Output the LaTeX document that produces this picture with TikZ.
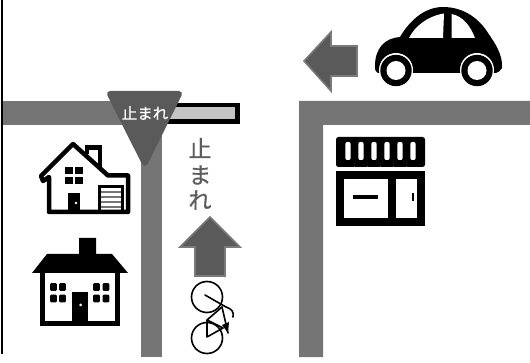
\documentclass[tikz,border=0pt]{standalone}
\usepackage{fontspec}
\newfontfamily\jp{Noto Sans CJK JP}
\newfontfamily\jpb{Noto Sans CJK JP}[FakeBold=0.6]
\definecolor{road}{HTML}{757575}
\definecolor{sign}{HTML}{5A5A5A}
\definecolor{edge}{HTML}{7A7A7A}
\definecolor{bar}{HTML}{C4C4C4}
\definecolor{txt}{HTML}{5C5C5C}
\tikzset{
  roadshape/.style={fill=road,draw=none},
  bigarrow/.style={fill=sign,draw=edge,line width=1.6pt,line join=miter},
  ink/.style={draw=black,line width=4.5pt,line join=round},
  solid ink/.style={fill=black,draw=none},
  thin ink/.style={draw=black,line width=1.6pt,line cap=round,line join=round},
  paper/.style={fill=white,draw=none},
  vtext/.style={text=txt,font=\jpb\fontsize{23}{23}\selectfont,inner sep=0pt},
}
\begin{document}
\begin{tikzpicture}[x=1pt,y=-1pt]
\useasboundingbox (0,0) rectangle (530,363);
\fill[white] (0,0) rectangle (530,363);
% frame
\coordinate (ft) at (1.7,0); \coordinate (fb) at (1.7,354);
\draw[black,line width=2pt] (ft) -- (fb);
% roads
\fill[roadshape] (3,101) rectangle (125,125);
\fill[roadshape] (141,120) rectangle (162,357);
\fill[roadshape] (530,101) -- (299,101) -- (299,357) -- (323,357) -- (323,125) -- (530,125) -- cycle;
% bar
\draw[black,line width=4.5pt,fill=bar] (165,105) rectangle (237.7,121.7);
% sign
\path[fill=sign,draw=sign,line width=6pt,line join=round] (110,94) -- (179,94) -- (144.8,163) -- cycle;
\node[text=white,font=\jpb\fontsize{15.5}{15.5}\selectfont,inner sep=0pt] (signtext) at (145,113) {止まれ};
% vertical text
\node[vtext] (v1) at (200,148) {止};
\node[vtext] (v2) at (200,175) {ま};
\node[vtext] (v3) at (200,200) {れ};
% up arrow
\path[bigarrow] (210,217) -- (240,247) -- (225,247) -- (225,276) -- (195,276) -- (195,247) -- (180,247) -- cycle;
% left arrow
\path[bigarrow] (304,61) -- (331,32) -- (331,46) -- (357,46) -- (357,76) -- (331,76) -- (331,91) -- cycle;
% bicycle
\draw[thin ink] (207,297) circle (15.5);
\draw[thin ink] (207,338) circle (15.5);
\draw[thin ink] (205,295) -- (226,307) .. controls (232,309) and (234,312) .. (233,317);
\draw[thin ink] (222,307) -- (207,320) -- (207,337) -- (223,328) -- (207,320);
\draw[thin ink] (222,307) -- (228,333);
\fill[black] (222,325) -- (229,322) -- (228,333) -- cycle;
% car
\path[solid ink] (375,66) .. controls (375,48) and (385,38) .. (400,37)
  .. controls (410,20) and (425,7) .. (443,7) .. controls (465,7) and (480,20) .. (488,33)
  .. controls (495,43) and (503,55) .. (502,68) .. controls (501,71) and (498,72) .. (496,73)
  -- (378,73) .. controls (376,72) and (375,71) .. (375,66) -- cycle;
\path[paper] (409,38) .. controls (415,26) and (428,16) .. (444,13.5) -- (443,38) -- cycle;
\path[paper] (451.5,14) .. controls (463,16) and (471,27) .. (475,38) -- (451.5,38) -- cycle;
\fill[white] (396,70) circle (17); \fill[white] (477,70) circle (17);
\fill[black] (396,70.5) circle (15.7); \fill[black] (477,70.5) circle (15.7);
\fill[white] (396,70.5) circle (9.5); \fill[white] (477,70.5) circle (9.5);
% shop
\path[solid ink,rounded corners=2.5pt] (336,137) rectangle (425,167);
\foreach \x in {348,361,374,387,400,413}{\path[paper,rounded corners=2pt] (\x-2.7,142) rectangle (\x+2.7,160);}
\foreach \x in {354.5,367.5,380.5,393.5,406.5}{\path[paper] (\x,168) circle (1.5);}
\draw[black,line width=8pt,line join=miter] (340,175) rectangle (421,222);
\draw[black,line width=8pt] (392,174) -- (392,222);
\draw[black,line width=4.5pt] (353,197) -- (378,197);
\draw[black,line width=2.5pt] (413,193.5) -- (413,201.5);
% house 1
\draw[ink] (41,176) -- (73,144) -- (108,175.5) -- (128,175.5) -- (128,212) -- (49,212) -- (49,177) -- (43,181) -- cycle;
\draw[ink,line join=miter] (87,154) -- (87,147.5) -- (100,147.5) -- (100,167);
\fill[black] (65,167) rectangle (72.5,174.5);
\fill[black] (75,167) rectangle (82.5,174.5);
\fill[black] (65,177) rectangle (72.5,184.5);
\fill[black] (75,177) rectangle (82.5,184.5);
\fill[black] (68,193) rectangle (80,213);
\fill[white] (76,203) circle (1.3);
\draw[black,line width=3pt] (99.5,213) -- (99.5,186.5) -- (122.5,186.5) -- (122.5,213);
\foreach \y in {192,197,202,207}{\draw[road,line width=2pt] (101,\y) -- (121,\y);}
% house 2
\path[solid ink] (79,238) -- (96,238) -- (96,254) -- (112,254) -- (128,273) -- (32,273) -- (47,254) -- (79,254) -- cycle;
\draw[black,line width=5pt,line join=miter] (42.5,270) -- (42.5,323.5) -- (117.5,323.5) -- (117.5,270);
\fill[black] (72,292) rectangle (88,324);
\fill[white] (80.5,305) circle (1.5);
\foreach \x in {53.5,62.5,96.5,106}{\foreach \y in {287,298.5}{\fill[black,rounded corners=1pt] (\x-3.3,\y-3.8) rectangle (\x+3.3,\y+3.8);}}
\end{tikzpicture}
\end{document}
